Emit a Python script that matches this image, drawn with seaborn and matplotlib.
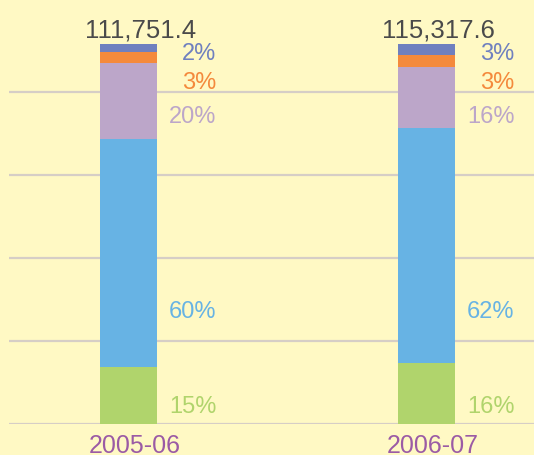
import numpy as np
import matplotlib.pyplot as plt
import matplotlib.transforms as mtransforms
import seaborn as sns

years = ["2005-06", "2006-07"]
totals = ["111,751.4", "115,317.6"]
green = [15, 16]
blue = [60, 62]
purple = [20, 16]
orange = [3, 3]
navy = [2, 3]

series = [green, blue, purple, orange, navy]
colors = ["#B0D46C", "#67B3E4", "#BCA6C9", "#F48A3C", "#6F80BF"]
# baseline heights (percent of bar) where the share labels sit
label_y = [2.9, 27.9, 79.2, 88.2, 95.8]

bg = "#FFF9C4"
sns.set_theme(style="white")
plt.rcParams['font.family'] = ['Liberation Sans', 'DejaVu Sans']

fig = plt.figure(figsize=(5.34, 4.55), dpi=100, facecolor=bg)
ax = fig.add_axes([9 / 534, 31 / 455, 1 - 9 / 534, 415 / 455])
ax.set_facecolor(bg)

bottom = np.zeros(len(years))
for vals, col in zip(series, colors):
    sns.barplot(x=years, y=vals, bottom=bottom, color=col, width=0.19,
                saturation=1, errorbar=None, ax=ax, zorder=3, linewidth=0)
    bottom = bottom + np.array(vals)

ymax = 100 * 415 / 380
ax.set_ylim(0, ymax)
ax.set_xlim(-0.401, 1.361)
ax.set_yticks(np.arange(5) * ymax / 5)
ax.set_yticklabels([])
ax.grid(axis="y", color="#D6CEC6", linewidth=1.6)
ax.set_axisbelow(True)
sns.despine(ax=ax, left=True, bottom=True, top=True, right=True)
ax.tick_params(axis="x", length=0, pad=7.5, labelsize=18, labelcolor="#9B5BA5")
ax.tick_params(axis="y", length=0)
ax.set_xlabel("")
ax.set_ylabel("")
shift = mtransforms.ScaledTranslation(6 / 100, 0, fig.dpi_scale_trans)
for lab in ax.get_xticklabels():
    lab.set_transform(lab.get_transform() + shift)

for i in range(len(years)):
    for vals, col, ly in zip(series, colors, label_y):
        ax.text(i + 0.295, ly, f"{vals[i]}%", color=col, fontsize=17,
                ha="right", va="baseline")
    ax.text(i + 0.04, 101.8, totals[i], color="#4A4A4A", fontsize=18.5,
            ha="center", va="baseline")

fig.savefig("out.png", dpi=100, facecolor=bg)
